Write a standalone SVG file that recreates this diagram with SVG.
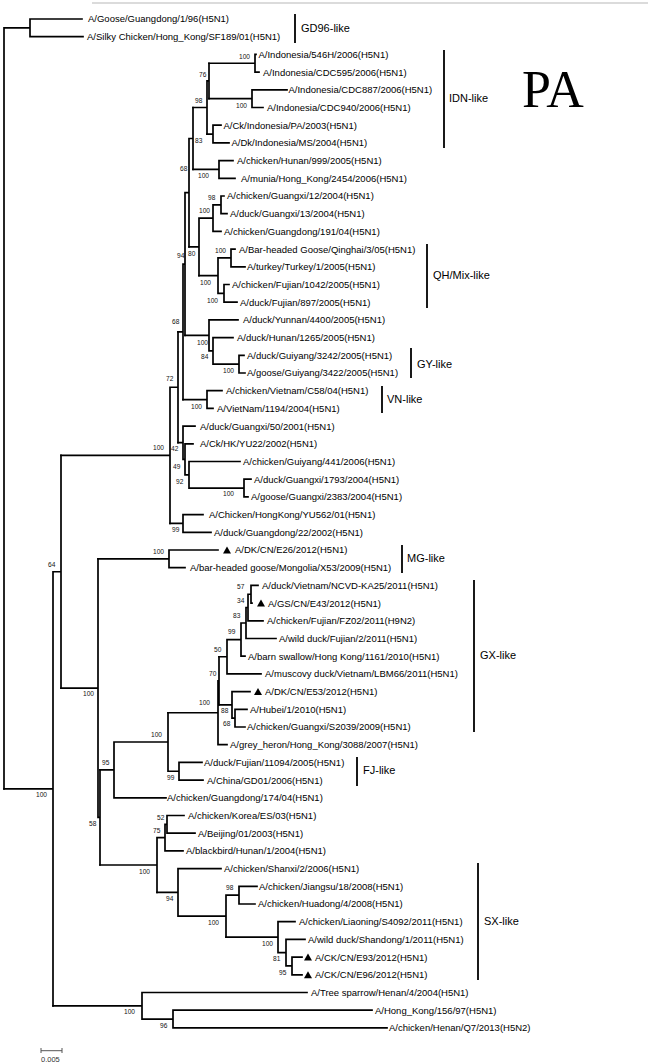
<svg xmlns="http://www.w3.org/2000/svg" width="660" height="1064" viewBox="0 0 660 1064">
<style>
.b{fill:none;stroke:#000;stroke-width:1.7;stroke-linecap:square}
.t{font-family:"Liberation Sans",Arial,sans-serif;font-size:9.5px;fill:#000}
.bs{font-family:"Liberation Sans",Arial,sans-serif;font-size:6.6px;fill:#111}
.cl{font-family:"Liberation Sans",Arial,sans-serif;font-size:11px;fill:#000}
.bar{stroke:#000;stroke-width:1.8}
.tri{fill:#000}
</style>
<rect width="660" height="1064" fill="#fff"/>
<path d="M92,3 H648" stroke="#cfcfcf" stroke-width="1.5"/>
<g id="connectors" class="b">
<path d="M4,27.85 V788.8 M4,27.85 H30 M30,19 V36.7 M30,19 H82 M30,36.7 H83"/>
<path d="M4,788.8 H53 M53,571.75 V1005.8 M53,571.75 H61 M61,455.35 V688.15"/>
<path d="M61,455.35 H170 M170,387.25 V523.45 M170,387.25 H178 M178,331.8 V442.7"/>
<path d="M178,331.8 H183 M183,264.05 V399.55 M183,264.05 H185 M185,192.7 V335.4 M185,192.7 H189 M189,138.5 V246.9 M189,138.5 H193 M193,107.5 V169.45"/>
<path d="M193,107.5 H207 M207,80.95 V134.05 M207,80.95 H209 M209,63.25 V98.65"/>
<path d="M209,63.25 H255 M255,54.4 V72.1 M255,54.4 H256 M255,72.1 H259"/>
<path d="M209,98.65 H252 M252,89.8 V107.5 M252,89.8 H287 M252,107.5 H263"/>
<path d="M207,134.05 H213 M213,125.2 V142.9 M213,125.2 H221 M213,142.9 H229"/>
<path d="M193,169.45 H219 M219,160.6 V178.3 M219,160.6 H233 M219,178.3 H235"/>
<path d="M189,246.9 H199 M199,218.1 V275.65 M199,218.1 H213 M213,204.85 V231.4 M213,204.85 H221 M221,196 V213.7 M221,196 H224 M221,213.7 H227 M213,231.4 H221"/>
<path d="M199,275.65 H218 M218,257.95 V293.35 M218,257.95 H231 M231,249.1 V266.8 M231,249.1 H235 M231,266.8 H245 M218,293.35 H224 M224,284.5 V302.2 M224,284.5 H229 M224,302.2 H237"/>
<path d="M185,335.4 H209 M209,319.9 V350.9 M209,319.9 H238 M209,350.9 H213 M213,337.6 V364.15 M213,337.6 H233 M213,364.15 H239 M239,355.3 V373 M239,355.3 H244 M239,373 H245"/>
<path d="M183,399.55 H207 M207,390.7 V408.4 M207,390.7 H222 M207,408.4 H213"/>
<path d="M178,442.7 H183 M183,426.1 V459.3 M183,426.1 H195 M183,459.3 H185 M185,443.8 V474.8 M185,443.8 H193 M185,474.8 H189 M189,461.5 V488.05 M189,461.5 H240 M189,488.05 H244 M244,479.2 V496.9 M244,479.2 H251 M244,496.9 H248"/>
<path d="M170,523.45 H183 M183,514.6 V532.3 M183,514.6 H203 M183,532.3 H211"/>
<path d="M61,688.15 H98 M98,558.85 V817.45 M98,817.45 H100 M100,769.9 V865"/>
<path d="M98,558.85 H169 M169,550 V567.7 M169,550 H218 M169,567.7 H185"/>
<path d="M100,769.9 H114 M114,742 V797.8 M114,797.8 H166 M114,742 H168 M168,712.75 V771.25 M168,771.25 H179 M179,762.4 V780.1 M179,762.4 H202 M179,780.1 H203"/>
<path d="M168,712.75 H218 M218,680.8 V744.7 M218,744.7 H227 M218,680.8 H219 M219,656.75 V704.9"/>
<path d="M219,656.75 H227 M227,639.6 V673.9 M227,673.9 H261 M227,639.6 H241 M241,623 V656.2 M241,656.2 H245 M241,623 H246 M246,607.5 V638.5 M246,638.5 H276 M246,607.5 H248 M248,594.25 V620.8 M248,620.8 H263 M248,594.25 H251 M251,585.4 V603.1 M251,585.4 H258 M251,603.1 H252"/>
<path d="M219,704.9 H232 M232,691.6 V718.15 M232,691.6 H250 M232,718.15 H235 M235,709.3 V727 M235,709.3 H247 M235,727 H245"/>
<path d="M100,865 H157 M157,837.6 V892.4 M157,837.6 H165 M165,824.35 V850.9 M165,850.9 H183 M165,824.35 H167 M167,815.5 V833.2 M167,815.5 H184 M167,833.2 H195"/>
<path d="M157,892.4 H178 M178,868.6 V916.2 M178,868.6 H221 M178,916.2 H226 M226,895.15 V937.2 M226,895.15 H239 M239,886.3 V904 M239,886.3 H257 M239,904 H255"/>
<path d="M226,937.2 H278 M278,921.7 V952.7 M278,921.7 H295 M278,952.7 H286 M286,939.4 V965.95 M286,939.4 H305 M286,965.95 H292 M292,957.1 V974.8 M292,957.1 H302 M292,974.8 H302"/>
<path d="M53,1005.8 H142 M142,992.5 V1019.05 M142,992.5 H307 M142,1019.05 H173 M173,1010.2 V1027.9 M173,1010.2 H372 M173,1027.9 H387"/>
</g>
<g id="leaf-01"><text class="t" x="88" y="22.4">A/Goose/Guangdong/1/96(H5N1)</text></g>
<g id="leaf-02"><text class="t" x="87" y="40.1">A/Silky Chicken/Hong_Kong/SF189/01(H5N1)</text></g>
<g id="leaf-03"><text class="t" x="258.5" y="57.8">A/Indonesia/546H/2006(H5N1)</text></g>
<g id="leaf-04"><text class="t" x="263" y="75.5">A/Indonesia/CDC595/2006(H5N1)</text></g>
<g id="leaf-05"><text class="t" x="288.5" y="93.2">A/Indonesia/CDC887/2006(H5N1)</text></g>
<g id="leaf-06"><text class="t" x="267" y="110.9">A/Indonesia/CDC940/2006(H5N1)</text></g>
<g id="leaf-07"><text class="t" x="223.5" y="128.6">A/Ck/Indonesia/PA/2003(H5N1)</text></g>
<g id="leaf-08"><text class="t" x="231.5" y="146.3">A/Dk/Indonesia/MS/2004(H5N1)</text></g>
<g id="leaf-09"><text class="t" x="237" y="164">A/chicken/Hunan/999/2005(H5N1)</text></g>
<g id="leaf-10"><text class="t" x="241" y="181.7">A/munia/Hong_Kong/2454/2006(H5N1)</text></g>
<g id="leaf-11"><text class="t" x="227" y="199.4">A/chicken/Guangxi/12/2004(H5N1)</text></g>
<g id="leaf-12"><text class="t" x="230" y="217.1">A/duck/Guangxi/13/2004(H5N1)</text></g>
<g id="leaf-13"><text class="t" x="224" y="234.8">A/chicken/Guangdong/191/04(H5N1)</text></g>
<g id="leaf-14"><text class="t" x="239" y="252.5">A/Bar-headed Goose/Qinghai/3/05(H5N1)</text></g>
<g id="leaf-15"><text class="t" x="247" y="270.2">A/turkey/Turkey/1/2005(H5N1)</text></g>
<g id="leaf-16"><text class="t" x="232" y="287.9">A/chicken/Fujian/1042/2005(H5N1)</text></g>
<g id="leaf-17"><text class="t" x="240" y="305.6">A/duck/Fujian/897/2005(H5N1)</text></g>
<g id="leaf-18"><text class="t" x="243" y="323.3">A/duck/Yunnan/4400/2005(H5N1)</text></g>
<g id="leaf-19"><text class="t" x="237" y="341">A/duck/Hunan/1265/2005(H5N1)</text></g>
<g id="leaf-20"><text class="t" x="247" y="358.7">A/duck/Guiyang/3242/2005(H5N1)</text></g>
<g id="leaf-21"><text class="t" x="247" y="376.4">A/goose/Guiyang/3422/2005(H5N1)</text></g>
<g id="leaf-22"><text class="t" x="226" y="394.1">A/chicken/Vietnam/C58/04(H5N1)</text></g>
<g id="leaf-23"><text class="t" x="217" y="411.8">A/VietNam/1194/2004(H5N1)</text></g>
<g id="leaf-24"><text class="t" x="200" y="429.5">A/duck/Guangxi/50/2001(H5N1)</text></g>
<g id="leaf-25"><text class="t" x="200" y="447.2">A/Ck/HK/YU22/2002(H5N1)</text></g>
<g id="leaf-26"><text class="t" x="243" y="464.9">A/chicken/Guiyang/441/2006(H5N1)</text></g>
<g id="leaf-27"><text class="t" x="254" y="482.6">A/duck/Guangxi/1793/2004(H5N1)</text></g>
<g id="leaf-28"><text class="t" x="251" y="500.3">A/goose/Guangxi/2383/2004(H5N1)</text></g>
<g id="leaf-29"><text class="t" x="209" y="518">A/Chicken/HongKong/YU562/01(H5N1)</text></g>
<g id="leaf-30"><text class="t" x="214" y="535.7">A/duck/Guangdong/22/2002(H5N1)</text></g>
<g id="leaf-31"><polygon class="tri" points="223,553.5 231,553.5 227,546.5"/><text class="t" x="235" y="553.4">A/DK/CN/E26/2012(H5N1)</text></g>
<g id="leaf-32"><text class="t" x="190" y="571.1">A/bar-headed goose/Mongolia/X53/2009(H5N1)</text></g>
<g id="leaf-33"><text class="t" x="262" y="588.8">A/duck/Vietnam/NCVD-KA25/2011(H5N1)</text></g>
<g id="leaf-34"><polygon class="tri" points="257,606.6 265,606.6 261,599.6"/><text class="t" x="268" y="606.5">A/GS/CN/E43/2012(H5N1)</text></g>
<g id="leaf-35"><text class="t" x="267" y="624.2">A/chicken/Fujian/FZ02/2011(H9N2)</text></g>
<g id="leaf-36"><text class="t" x="279" y="641.9">A/wild duck/Fujian/2/2011(H5N1)</text></g>
<g id="leaf-37"><text class="t" x="248" y="659.6">A/barn swallow/Hong Kong/1161/2010(H5N1)</text></g>
<g id="leaf-38"><text class="t" x="265" y="677.3">A/muscovy duck/Vietnam/LBM66/2011(H5N1)</text></g>
<g id="leaf-39"><polygon class="tri" points="254,695.1 262,695.1 258,688.1"/><text class="t" x="265" y="695">A/DK/CN/E53/2012(H5N1)</text></g>
<g id="leaf-40"><text class="t" x="250" y="712.7">A/Hubei/1/2010(H5N1)</text></g>
<g id="leaf-41"><text class="t" x="247" y="730.4">A/chicken/Guangxi/S2039/2009(H5N1)</text></g>
<g id="leaf-42"><text class="t" x="230" y="748.1">A/grey_heron/Hong_Kong/3088/2007(H5N1)</text></g>
<g id="leaf-43"><text class="t" x="204" y="765.8">A/duck/Fujian/11094/2005(H5N1)</text></g>
<g id="leaf-44"><text class="t" x="207" y="783.5">A/China/GD01/2006(H5N1)</text></g>
<g id="leaf-45"><text class="t" x="167" y="801.2">A/chicken/Guangdong/174/04(H5N1)</text></g>
<g id="leaf-46"><text class="t" x="188" y="818.9">A/chicken/Korea/ES/03(H5N1)</text></g>
<g id="leaf-47"><text class="t" x="198" y="836.6">A/Beijing/01/2003(H5N1)</text></g>
<g id="leaf-48"><text class="t" x="186" y="854.3">A/blackbird/Hunan/1/2004(H5N1)</text></g>
<g id="leaf-49"><text class="t" x="224" y="872">A/chicken/Shanxi/2/2006(H5N1)</text></g>
<g id="leaf-50"><text class="t" x="259" y="889.7">A/chicken/Jiangsu/18/2008(H5N1)</text></g>
<g id="leaf-51"><text class="t" x="258" y="907.4">A/chicken/Huadong/4/2008(H5N1)</text></g>
<g id="leaf-52"><text class="t" x="299" y="925.1">A/chicken/Liaoning/S4092/2011(H5N1)</text></g>
<g id="leaf-53"><text class="t" x="308" y="942.8">A/wild duck/Shandong/1/2011(H5N1)</text></g>
<g id="leaf-54"><polygon class="tri" points="304,960.6 312,960.6 308,953.6"/><text class="t" x="315" y="960.5">A/CK/CN/E93/2012(H5N1)</text></g>
<g id="leaf-55"><polygon class="tri" points="304,978.3 312,978.3 308,971.3"/><text class="t" x="315" y="978.2">A/CK/CN/E96/2012(H5N1)</text></g>
<g id="leaf-56"><text class="t" x="311" y="995.9">A/Tree sparrow/Henan/4/2004(H5N1)</text></g>
<g id="leaf-57"><text class="t" x="375" y="1013.6">A/Hong_Kong/156/97(H5N1)</text></g>
<g id="leaf-58"><text class="t" x="389" y="1031.3">A/chicken/Henan/Q7/2013(H5N2)</text></g>
<g id="bootstrap" class="bs">
<text x="36" y="797.3">100</text><text x="48" y="567.3">64</text><text x="83" y="696.3">100</text>
<text x="153" y="450.3">100</text><text x="166" y="381.3">72</text><text x="171" y="451.3">42</text>
<text x="173" y="469.3">49</text><text x="176" y="484.3">92</text><text x="223" y="496.3">100</text>
<text x="172" y="532.3">99</text><text x="191" y="409.3">100</text><text x="201" y="359.3">84</text>
<text x="223" y="373.3">100</text><text x="197" y="345.3">100</text><text x="172" y="324.3">68</text>
<text x="177" y="258.3">94</text><text x="188" y="256.3">80</text><text x="207" y="303.3">100</text>
<text x="200" y="285.3">100</text><text x="215" y="253.3">100</text><text x="199" y="213.3">100</text>
<text x="208" y="200.3">98</text><text x="198" y="178.3">100</text><text x="180" y="171.3">68</text>
<text x="195" y="143.3">83</text><text x="236" y="108.3">100</text><text x="195" y="103.3">98</text>
<text x="199" y="77.3">76</text><text x="239" y="59.3">100</text><text x="153" y="554.3">100</text>
<text x="237" y="589.3">57</text><text x="237" y="603.3">34</text><text x="233" y="618.3">83</text>
<text x="228" y="634.3">99</text><text x="214" y="652.3">50</text><text x="209" y="676.3">70</text>
<text x="199" y="705.3">100</text><text x="221" y="713.3">88</text><text x="223" y="726.3">68</text>
<text x="151" y="737.3">100</text><text x="102" y="765.3">95</text><text x="167" y="780.3">99</text>
<text x="89" y="826.3">58</text><text x="157" y="820.3">52</text><text x="153" y="833.3">75</text>
<text x="139" y="874.3">100</text><text x="166" y="901.3">94</text><text x="226" y="890.3">98</text>
<text x="208" y="925.3">100</text><text x="262" y="946.3">100</text><text x="273" y="961.3">81</text>
<text x="279" y="975.3">95</text><text x="124" y="1014.3">100</text><text x="160" y="1028.3">96</text>
</g>
<g id="clade-GD96"><path class="bar" d="M295,14 V43"/><text class="cl" x="301" y="32">GD96-like</text></g>
<g id="clade-IDN"><path class="bar" d="M444,50 V148"/><text class="cl" x="449" y="102">IDN-like</text></g>
<g id="clade-QH"><path class="bar" d="M427,244 V308"/><text class="cl" x="433" y="279">QH/Mix-like</text></g>
<g id="clade-GY"><path class="bar" d="M411,348 V378"/><text class="cl" x="417" y="368">GY-like</text></g>
<g id="clade-VN"><path class="bar" d="M382,386 V413"/><text class="cl" x="387" y="403">VN-like</text></g>
<g id="clade-MG"><path class="bar" d="M402,545 V573"/><text class="cl" x="407" y="562">MG-like</text></g>
<g id="clade-GX"><path class="bar" d="M474,580 V732"/><text class="cl" x="480" y="659">GX-like</text></g>
<g id="clade-FJ"><path class="bar" d="M357,757 V786"/><text class="cl" x="363" y="774">FJ-like</text></g>
<g id="clade-SX"><path class="bar" d="M478,863 V980"/><text class="cl" x="484" y="925">SX-like</text></g>
<g id="title"><text x="522" y="107" font-family="'Liberation Serif','Times New Roman',serif" font-size="52">PA</text></g>
<g id="scale"><path d="M41,1048 V1053 M41,1050.7 H62 M62,1048 V1053" stroke="#555" stroke-width="1" fill="none"/><text x="41" y="1062" font-family="'Liberation Sans',Arial,sans-serif" font-size="7.5" fill="#333">0.005</text></g>
</svg>
